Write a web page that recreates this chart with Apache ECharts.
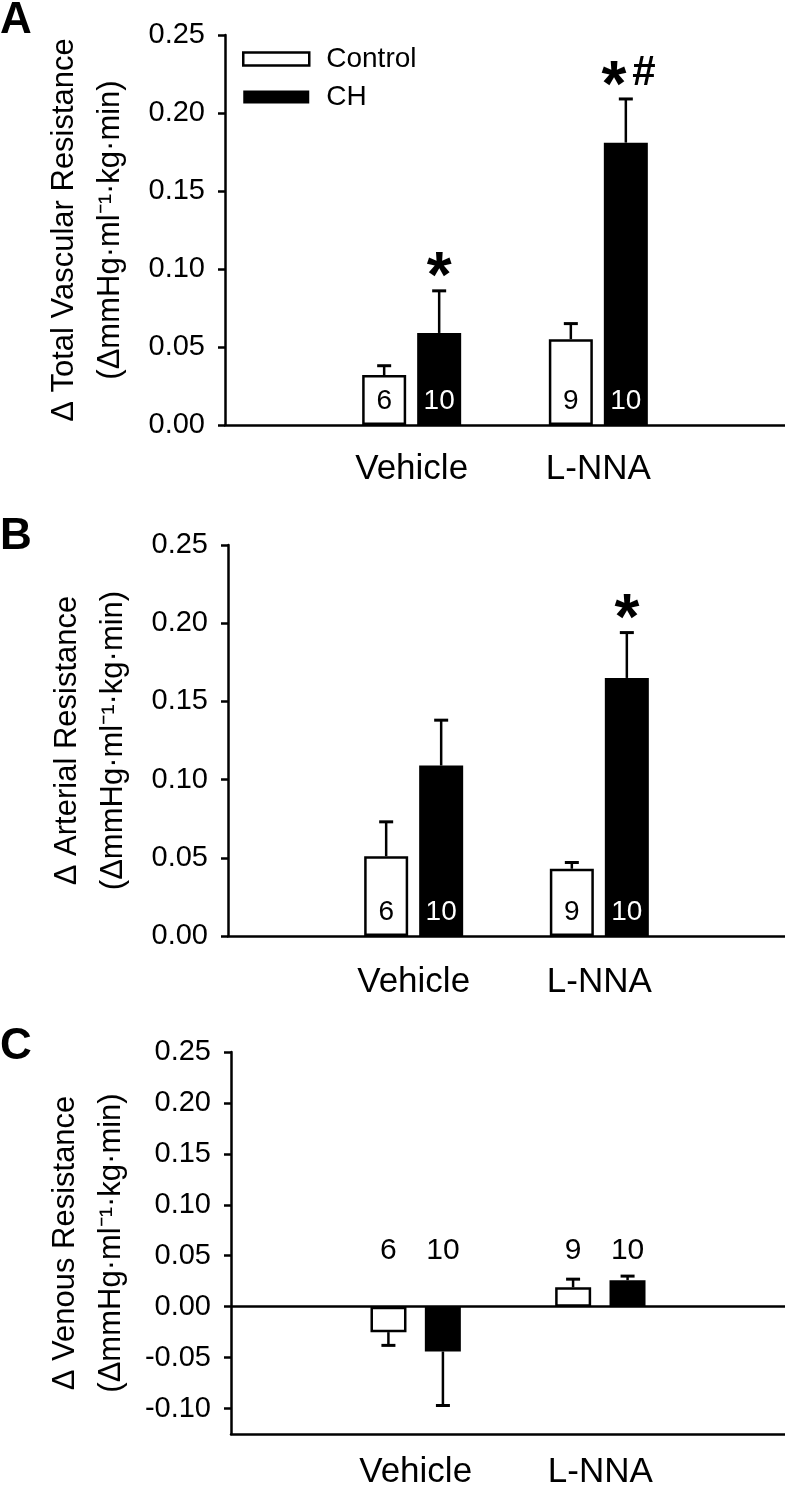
<!DOCTYPE html>
<html>
<head>
<meta charset="utf-8">
<script src="https://cdn.jsdelivr.net/npm/echarts@6/dist/echarts.min.js"></script>
<style>
html,body{margin:0;padding:0;background:#fff;}
#chart{width:785px;height:1492px;}
</style>
</head>
<body>
<div id="chart"></div>
<script>
// x axis groups and legend names
const groups = ['Vehicle', 'L-NNA'];
const seriesNames = ['Control', 'CH'];

// A: total vascular resistance
const totalControl = [0.032, 0.055];
const totalControlErr = [0.006, 0.010];
const totalCH = [0.059, 0.181];
const totalCHErr = [0.027, 0.028];
const totalCHMarks = ['*', '*#'];

// B: arterial resistance
const artControl = [0.051, 0.043];
const artControlErr = [0.022, 0.004];
const artCH = [0.109, 0.165];
const artCHErr = [0.029, 0.029];
const artCHMarks = ['', '*'];

// C: venous resistance
const venControl = [-0.025, 0.019];
const venControlErr = [0.013, 0.008];
const venCH = [-0.044, 0.026];
const venCHErr = [0.053, 0.004];

// n per bar
const nControl = [6, 9];
const nCH = [10, 10];

// tick labels
const yTicksAB = [0, 0.05, 0.10, 0.15, 0.20, 0.25];
const yTicksC = [-0.10, -0.05, 0, 0.05, 0.10, 0.15, 0.20, 0.25];

const font = '"Liberation Sans", Arial, sans-serif';
// blank slot on each side so the groups sit where the original has them
const axisCats = [''].concat(groups, ['']);
const pad = arr => [null].concat(arr, [null]);

function xAxis(idx, margin, onZero) {
    return {
        type: 'category', gridIndex: idx, data: axisCats, boundaryGap: false,
        axisLine: {onZero: onZero, lineStyle: {color: '#000', width: 2.5}},
        axisTick: {show: false},
        axisLabel: {interval: 0, fontSize: 35, color: '#000', margin: margin, fontFamily: font}
    };
}

function yAxis(idx, name, min, ticks) {
    return {
        type: 'value', gridIndex: idx, min: min, max: 0.25,
        name: name, nameLocation: 'middle', nameRotate: 90, nameGap: 92,
        nameTextStyle: {fontSize: 31, lineHeight: 46, color: '#000', fontFamily: font},
        axisLine: {show: true, onZero: false, lineStyle: {color: '#000', width: 2.5}},
        axisTick: {show: true, length: 7, customValues: ticks, lineStyle: {color: '#000', width: 2.5}},
        axisLabel: {fontSize: 29, color: '#000', margin: 20, fontFamily: font, customValues: ticks,
            formatter: v => v.toFixed(2)},
        splitLine: {show: false}
    };
}

function bars(idx, name, vals, ns, filled, bw, gap, inside) {
    return {
        name: name, type: 'bar', xAxisIndex: idx, yAxisIndex: idx,
        data: pad(vals), barWidth: bw, barGap: gap, silent: true,
        itemStyle: filled ? {color: '#000'} : {color: '#fff', borderColor: '#000', borderWidth: 2.5},
        label: {
            show: inside, position: 'insideBottom', distance: 10, fontSize: 28, fontFamily: font,
            color: filled ? '#fff' : '#000',
            formatter: p => String(ns[p.dataIndex - 1])
        }
    };
}

// one-sided error bars, optional marks above them and optional n above the group
function errors(idx, vals, errs, offset, marks, topNs, topY) {
    return {
        type: 'custom', xAxisIndex: idx, yAxisIndex: idx, silent: true,
        data: vals.map((v, i) => [i + 1, v, errs[i]]),
        renderItem: function (params, api) {
            const i = params.dataIndex;
            const v = api.value(1), e = api.value(2);
            const p0 = api.coord([api.value(0), v]);
            const p1 = api.coord([api.value(0), v < 0 ? v - e : v + e]);
            const x = p0[0] + offset;
            const kids = [
                {type: 'line', shape: {x1: x, y1: p0[1], x2: x, y2: p1[1]}, style: {stroke: '#000', lineWidth: 2.5}},
                {type: 'line', shape: {x1: x - 7, y1: p1[1], x2: x + 7, y2: p1[1]}, style: {stroke: '#000', lineWidth: 3}}
            ];
            const m = marks ? marks[i] : '';
            if (m) {
                const two = m.length > 1;
                kids.push({type: 'text', x: two ? x - 12 : x, y: p1[1] - 11,
                    style: {text: '*', fontSize: 64, fontWeight: 'bold', fontFamily: font, fill: '#000',
                        align: 'center', verticalAlign: 'middle'}});
                if (two) kids.push({type: 'text', x: x + 18, y: p1[1] - 26,
                    style: {text: m.slice(1), fontSize: 42, fontWeight: 'bold', fontFamily: font, fill: '#000',
                        align: 'center', verticalAlign: 'middle'}});
            }
            if (topNs) {
                const q = api.coord([api.value(0), topY]);
                kids.push({type: 'text', x: x, y: q[1],
                    style: {text: String(topNs[i]), fontSize: 30, fontFamily: font, fill: '#000',
                        align: 'center', verticalAlign: 'middle'}});
            }
            return {type: 'group', children: kids};
        }
    };
}

const chart = echarts.init(document.getElementById('chart'));
const zeroLine = {
    silent: true, symbol: 'none', label: {show: false},
    lineStyle: {color: '#000', width: 2.5, type: 'solid'},
    data: [{yAxis: 0}]
};
const venControlBars = bars(2, seriesNames[0], venControl, nControl, false, 36, '51%', false);
venControlBars.markLine = zeroLine;

chart.setOption({
    animation: false,
    backgroundColor: '#fff',
    textStyle: {fontFamily: font},
    grid: [
        {left: 225, top: 35, right: 0, height: 390, outerBoundsMode: 'none'},
        {left: 228, top: 545, right: 0, height: 391, outerBoundsMode: 'none'},
        {left: 231, top: 1052, right: 0, height: 382, outerBoundsMode: 'none'}
    ],
    legend: {
        data: [
            {name: seriesNames[0], itemStyle: {color: '#fff', borderColor: '#000', borderWidth: 2.5}},
            {name: seriesNames[1], itemStyle: {color: '#000'}}
        ],
        orient: 'vertical', left: 242, top: 45, padding: 0,
        icon: 'rect', itemWidth: 66, itemHeight: 13, itemGap: 10, selectedMode: false,
        textStyle: {fontSize: 28, color: '#000', fontFamily: font, padding: [0, 0, 0, 12]}
    },
    graphic: [
        {type: 'text', left: 0, top: -1, style: {text: 'A', fontSize: 44, fontWeight: 'bold', fontFamily: font, fill: '#000'}},
        {type: 'text', left: 0, top: 515, style: {text: 'B', fontSize: 44, fontWeight: 'bold', fontFamily: font, fill: '#000'}},
        {type: 'text', left: 0, top: 1025, style: {text: 'C', fontSize: 44, fontWeight: 'bold', fontFamily: font, fill: '#000'}}
    ],
    xAxis: [xAxis(0, 27, true), xAxis(1, 29, true), xAxis(2, 21, false)],
    yAxis: [
        yAxis(0, 'Δ Total Vascular Resistance\n(ΔmmHg·ml⁻¹·kg·min)', 0, yTicksAB),
        yAxis(1, 'Δ Arterial Resistance\n(ΔmmHg·ml⁻¹·kg·min)', 0, yTicksAB),
        yAxis(2, 'Δ Venous Resistance\n(ΔmmHg·ml⁻¹·kg·min)', -0.125, yTicksC)
    ],
    series: [
        bars(0, seriesNames[0], totalControl, nControl, false, 44, '25%', true),
        bars(0, seriesNames[1], totalCH, nCH, true, 44, '25%', true),
        errors(0, totalControl, totalControlErr, -27.5, null),
        errors(0, totalCH, totalCHErr, 27.5, totalCHMarks),

        bars(1, seriesNames[0], artControl, nControl, false, 44, '25%', true),
        bars(1, seriesNames[1], artCH, nCH, true, 44, '25%', true),
        errors(1, artControl, artControlErr, -27.5, null),
        errors(1, artCH, artCHErr, 27.5, artCHMarks),

        venControlBars,
        bars(2, seriesNames[1], venCH, nCH, true, 36, '51%', false),
        errors(2, venControl, venControlErr, -27.25, null, nControl, 0.055),
        errors(2, venCH, venCHErr, 27.25, null, nCH, 0.055)
    ]
});
</script>
</body>
</html>
